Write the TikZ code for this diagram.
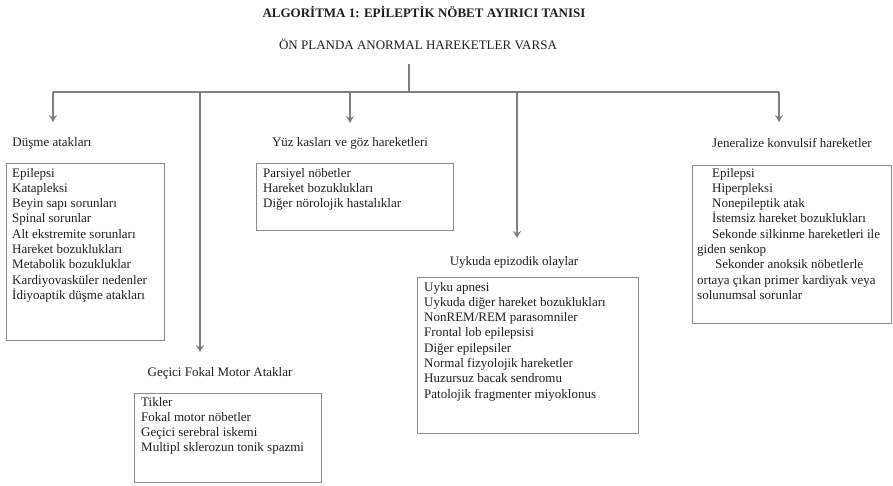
\documentclass[tikz,border=0pt]{standalone}
\usepackage{fontspec}
\setmainfont{Liberation Serif}
\usetikzlibrary{arrows.meta}
\definecolor{linegray}{HTML}{7F7F7F}
\definecolor{boxgray}{HTML}{8C8C8C}
\definecolor{txt}{HTML}{1E1E1E}
\tikzset{
  conn/.style={draw=linegray, line width=2pt},
  arr/.style={conn, -{Stealth[length=7pt,width=8pt,inset=2.5pt]}},
  lbl/.style={text=txt, font=\fontsize{13}{15.3}\selectfont, inner sep=0pt},
  listbox/.style={draw=boxgray, line width=0.9pt},
  listtxt/.style={text=txt, font=\fontsize{13}{15.3}\selectfont, inner sep=0pt, anchor=base west}
}
\newcommand{\itemlist}[1]{\begin{tabular}[t]{@{}l@{}}#1\end{tabular}}
\begin{document}
\begin{tikzpicture}[x=1pt,y=-1pt]
\useasboundingbox (0,0) rectangle (893,485);
% titles
\node[lbl, font=\fontsize{13}{15.3}\selectfont\bfseries] (title) at (424,12) {ALGORİTMA 1: EPİLEPTİK NÖBET AYIRICI TANISI};
\node[lbl] (sub) at (418,44) {ÖN PLANDA ANORMAL HAREKETLER VARSA};
% category labels
\node[lbl] (l1) at (52,143) {Düşme atakları};
\node[lbl] (l2) at (350,143) {Yüz kasları ve göz hareketleri};
\node[lbl] (l3) at (792,143) {Jeneralize konvulsif hareketler};
\node[lbl] (l4) at (514,262) {Uykuda epizodik olaylar};
\node[lbl] (l5) at (220,373) {Geçici Fokal Motor Ataklar};
% junctions
\coordinate (s0) at (409,64);
\coordinate (s1) at (409,91.5);
\coordinate (b1) at (53,91.5);
\coordinate (b5) at (200,91.5);
\coordinate (b2) at (350,91.5);
\coordinate (b4) at (517,91.5);
\coordinate (b3) at (779,91.5);
\coordinate (t1) at (53,122);
\coordinate (t5) at (200,352);
\coordinate (t2) at (350,123);
\coordinate (t4) at (517,238);
\coordinate (t3) at (779,122);
\draw[conn] (s0) -- (s1);
\draw[conn] (t1 |- b1) -- (b3);
\draw[arr] (b1) -- (t1);
\draw[arr] (b5) -- (t5);
\draw[arr] (b2) -- (t2);
\draw[arr] (b4) -- (t4);
\draw[arr] (b3) -- (t3);
% boxes
\draw[listbox] (6,163) rectangle (164,340);
\node[listtxt] (x1) at (12,177) {\itemlist{Epilepsi\\Katapleksi\\Beyin sapı sorunları\\Spinal sorunlar\\Alt ekstremite sorunları\\Hareket bozuklukları\\Metabolik bozukluklar\\Kardiyovasküler nedenler\\İdiyoaptik düşme atakları}};
\draw[listbox] (256,163) rectangle (453,230);
\node[listtxt] (x2) at (263,177) {\itemlist{Parsiyel nöbetler\\Hareket bozuklukları\\Diğer nörolojik hastalıklar}};
\draw[listbox] (692,165) rectangle (891,323);
\node[listtxt] (x3) at (697,177) {\itemlist{\hspace{15pt}Epilepsi\\\hspace{15pt}Hiperpleksi\\\hspace{15pt}Nonepileptik atak\\\hspace{15pt}İstemsiz hareket bozuklukları\\\hspace{15pt}Sekonde silkinme hareketleri ile\\giden senkop\\\hspace{18pt}Sekonder anoksik nöbetlerle\\ortaya çıkan primer kardiyak veya\\solunumsal sorunlar}};
\draw[listbox] (417,277) rectangle (638,433);
\node[listtxt] (x4) at (424,291) {\itemlist{Uyku apnesi\\Uykuda diğer hareket bozuklukları\\NonREM/REM parasomniler\\Frontal lob epilepsisi\\Diğer epilepsiler\\Normal fizyolojik hareketler\\Huzursuz bacak sendromu\\Patolojik fragmenter miyoklonus}};
\draw[listbox] (134,393) rectangle (321,482);
\node[listtxt] (x5) at (141,406) {\itemlist{Tikler\\Fokal motor nöbetler\\Geçici serebral iskemi\\Multipl sklerozun tonik spazmi}};
\end{tikzpicture}
\end{document}
